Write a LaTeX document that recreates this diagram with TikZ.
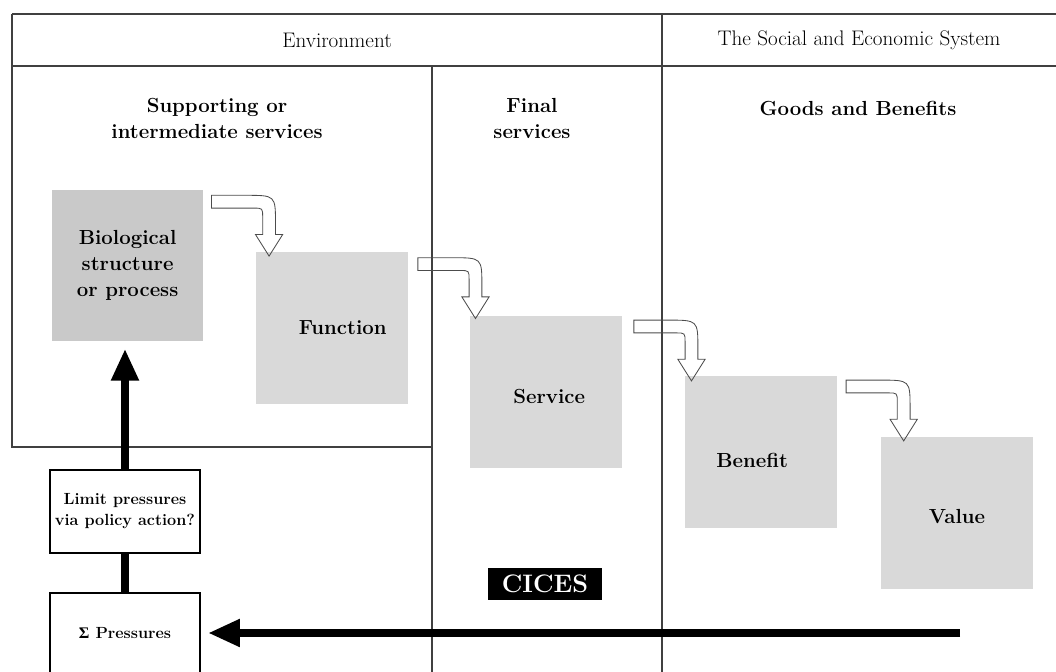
\documentclass[tikz,border=0pt]{standalone}
\usepackage{fontspec}
\usepackage{tikz}
\usetikzlibrary{arrows.meta}
\newfontfamily\greekfont{Liberation Serif}

\tikzset{
  frame/.style={black!75, line width=0.9pt},
  headtext/.style={font=\fontsize{15}{18}\selectfont},
  subhead/.style={align=center, font=\fontsize{14.5}{18.5}\selectfont\bfseries},
  svcbox/.style={fill=gray!30, minimum size=3.78cm, inner sep=0pt},
  boxtext/.style={align=center, font=\fontsize{14.5}{18.5}\selectfont\bfseries},
  pressbox/.style={draw, line width=1.1pt, minimum width=3.75cm, align=center,
    font=\fontsize{11.5}{15}\selectfont\bfseries},
  bigarrow/.style={line width=0.2cm, -{Triangle[length=0.8cm,width=0.65cm]}},
  turnarrow/.pic={
    \draw[black!70, line width=0.6pt] (0,0) -- (0.85,0) .. controls (1.6,0) .. (1.6,-0.7)
      -- (1.6,-0.98) -- (1.78,-0.98) -- (1.44,-1.52) -- (1.1,-0.98) -- (1.28,-0.98)
      -- (1.28,-0.55) .. controls (1.28,-0.32) .. (1.05,-0.32) -- (0,-0.32) -- cycle;
  }
}

\begin{document}
\begin{tikzpicture}
\useasboundingbox (0,0) rectangle (26.4,16.8);

% table
\draw[frame] (0.3,16.45) -- (26.4,16.45);
\draw[frame] (0.3,15.15) -- (26.4,15.15);
\draw[frame] (0.3,16.45) -- (0.3,5.625) -- (10.8,5.625);
\draw[frame] (10.8,15.15) -- (10.8,0);
\draw[frame] (16.55,16.45) -- (16.55,0);

\node[headtext] (env) at (8.425,15.8) {Environment};
\node[headtext] (socio) at (21.475,15.8) {The Social and Economic System};

\node[subhead] (support) at (5.425,13.85) {Supporting or\\intermediate services};
\node[subhead] (final) at (13.3,13.85) {Final\\services};
\node[subhead] (goods) at (21.45,14.1) {Goods and Benefits};

% the cascade
\node[svcbox, fill=gray!42] (bio) at (3.19,10.16) {};
\node[svcbox] (function) at (8.3,8.6) {};
\node[svcbox] (service) at (13.65,7.0) {};
\node[svcbox] (benefit) at (19.025,5.5) {};
\node[svcbox] (value) at (23.925,3.975) {};

\node[boxtext] (biotext) at (bio) {Biological\\structure\\or process};
\node[boxtext] (functext) at ([xshift=0.27cm]function) {Function};
\node[boxtext] (servtext) at ([shift={(0.08,-0.12)}]service) {Service};
\node[boxtext] (bentext) at ([shift={(-0.22,-0.22)}]benefit) {Benefit};
\node[boxtext] (valtext) at ([yshift=-0.08cm]value) {Value};

\pic at ([shift={(0.2,-0.14)}]bio.north east) {turnarrow};
\pic at ([shift={(0.25,-0.14)}]function.north east) {turnarrow};
\pic at ([shift={(0.3,-0.1)}]service.north east) {turnarrow};
\pic at ([shift={(0.23,-0.1)}]benefit.north east) {turnarrow};

\node[fill=black, text=white, minimum width=2.85cm, minimum height=0.8cm,
  font=\fontsize{18}{20}\selectfont\bfseries] (cices) at (13.625,2.2) {CICES};

% pressures
\node[pressbox, minimum height=2.075cm] (limit) at (3.125,4.0125) {Limit pressures\\via policy action?};
\node[pressbox, minimum height=2.0cm] (sigma) at (3.125,0.975) {{\greekfont Σ} Pressures};

\draw[line width=0.2cm] (sigma.north) -- (limit.south);
\draw[bigarrow, shorten >=0.18cm] (limit.north) -- (limit.north |- bio.south);
\coordinate (pend) at (24.0,0.975);
\draw[bigarrow, shorten >=0.18cm] (pend) -- (sigma.east);
\end{tikzpicture}
\end{document}
